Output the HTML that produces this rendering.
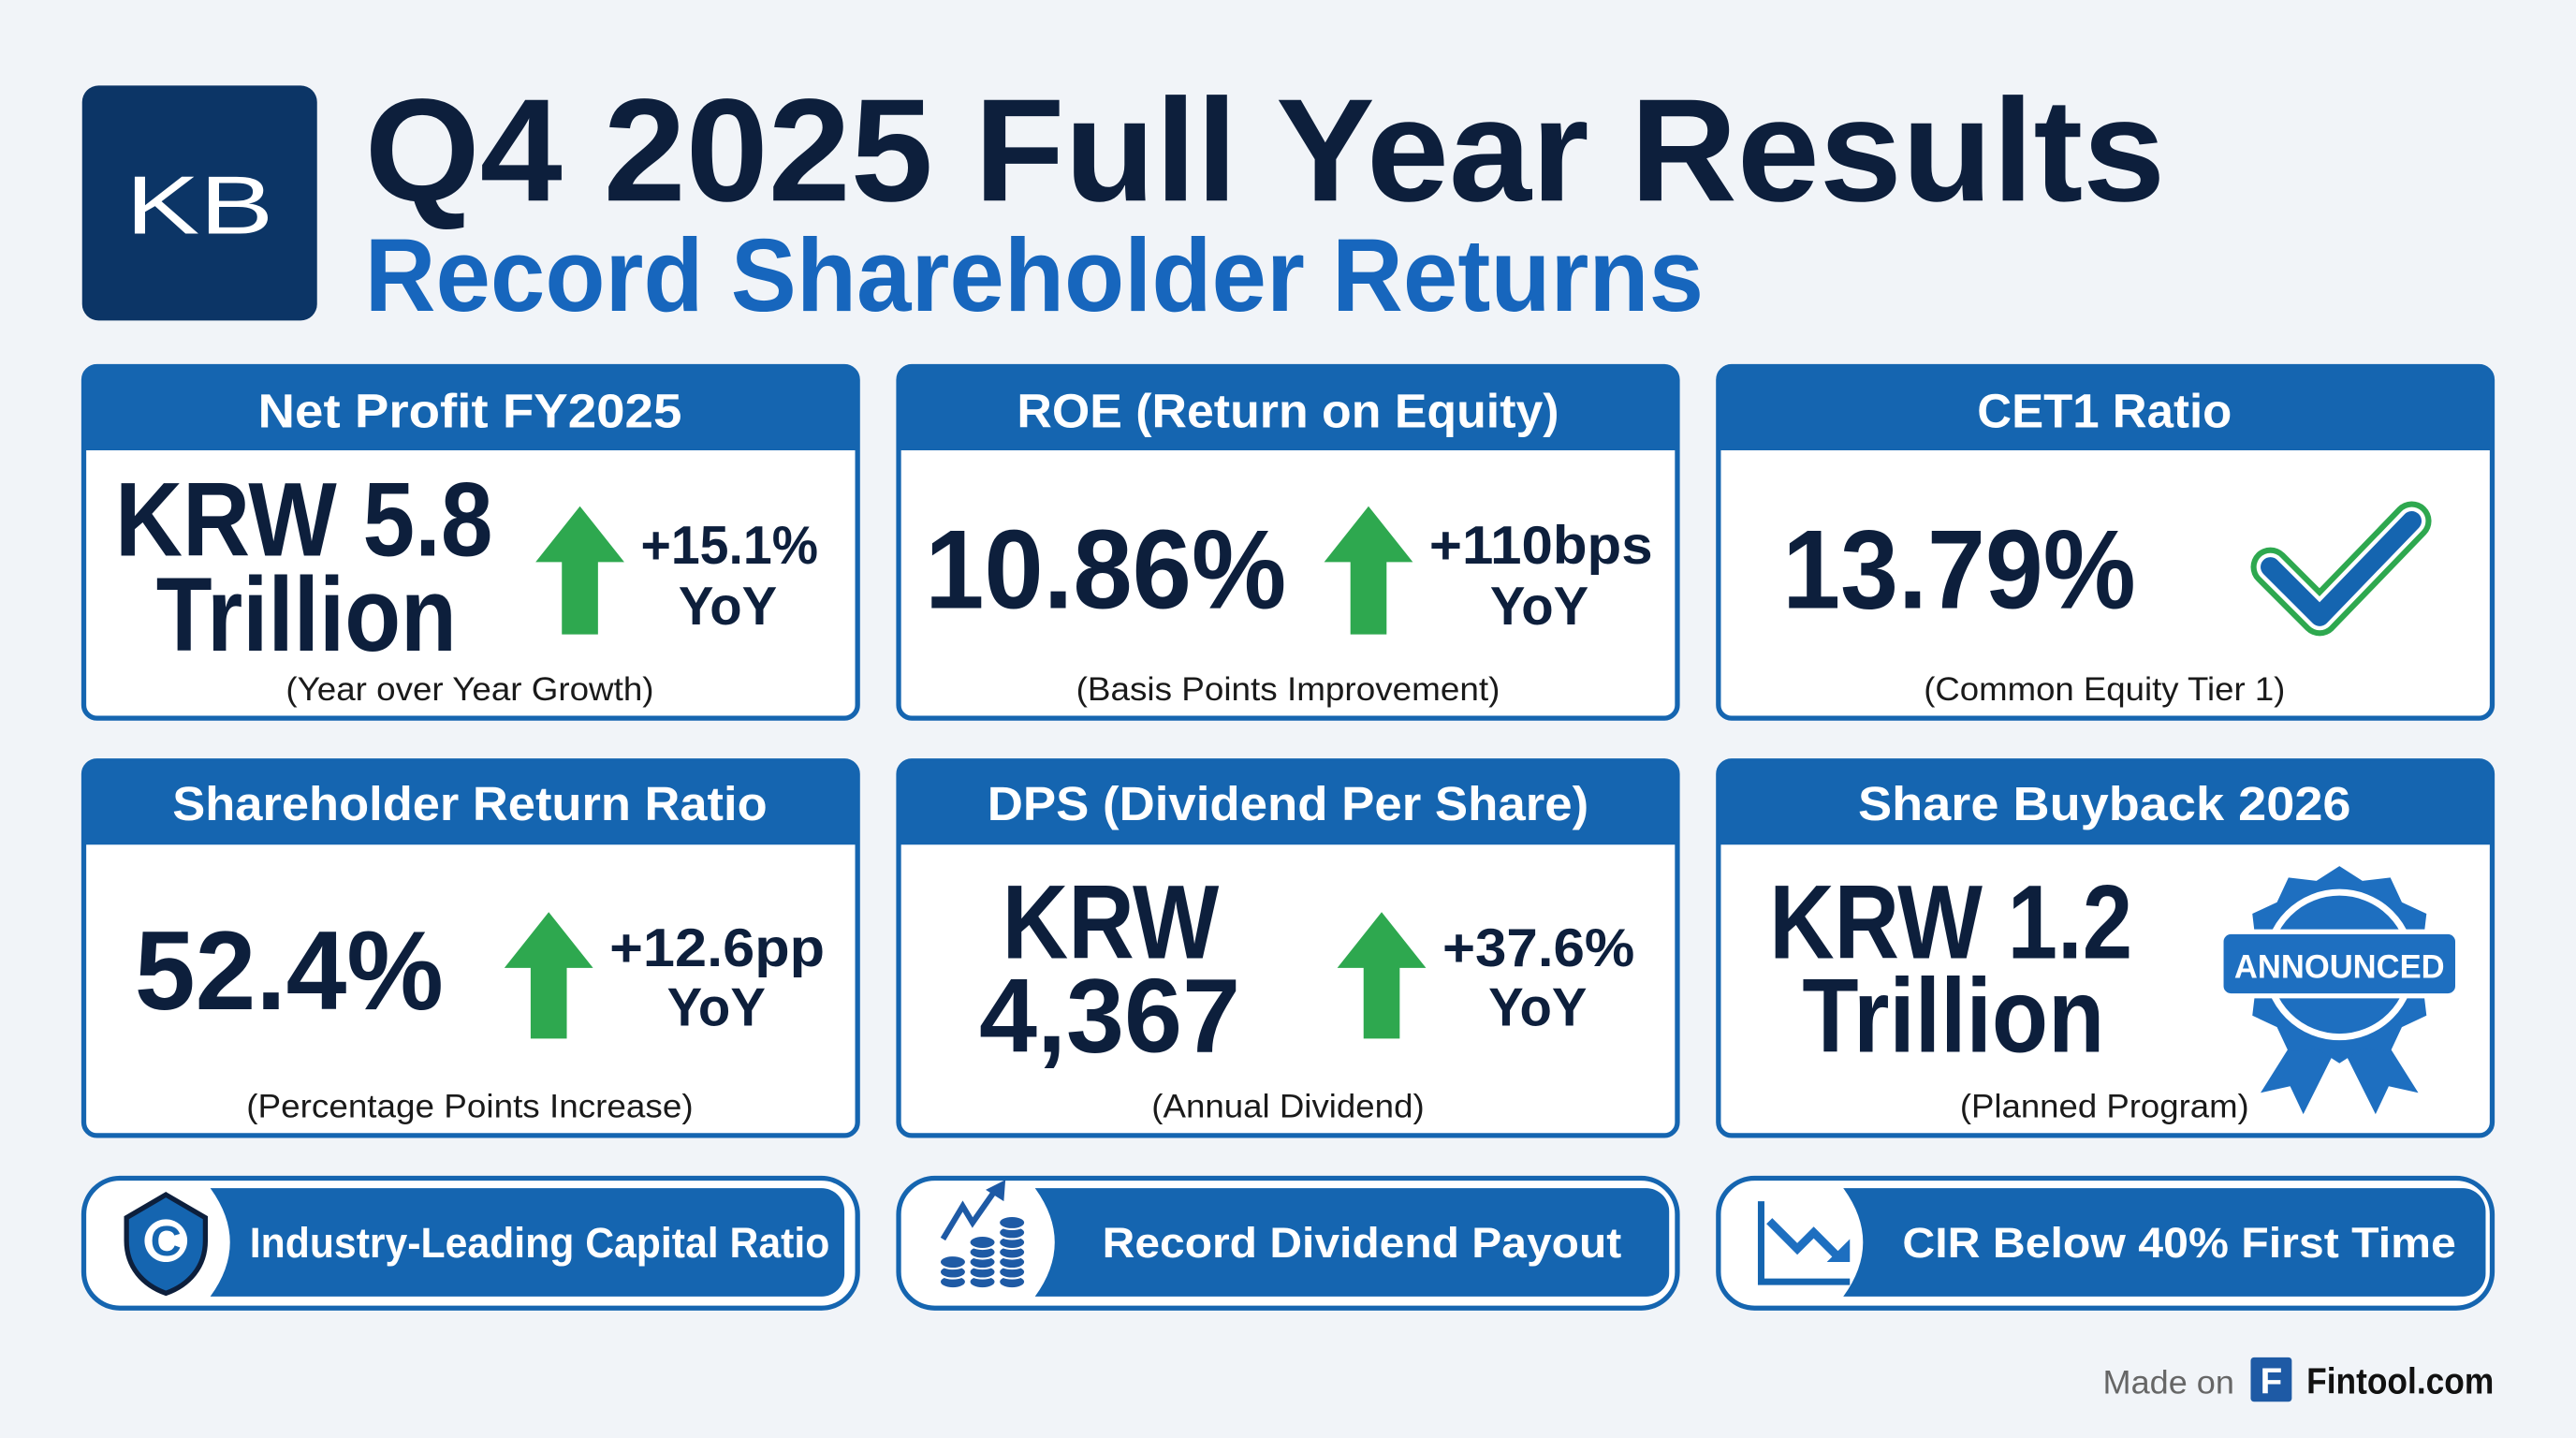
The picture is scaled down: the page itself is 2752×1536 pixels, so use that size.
<!DOCTYPE html>
<html><head><meta charset="utf-8"><style>
html,body{margin:0;padding:0;background:#f1f4f8;}
svg{display:block;}
text{font-family:"Liberation Sans",sans-serif;}
</style></head><body>
<svg width="2752" height="1536" viewBox="0 0 1568 875" xmlns="http://www.w3.org/2000/svg">
<rect width="1568" height="875" fill="#f1f4f8"/>
<!-- logo -->
<rect x="50" y="52" width="143" height="143" rx="10" fill="#0c3566"/>
<text x="121.5" y="142" font-size="50" fill="#fff" text-anchor="middle" textLength="90" lengthAdjust="spacingAndGlyphs">KB</text>
<text x="222" y="122" font-size="89" font-weight="bold" fill="#0d1f3c" textLength="1096" lengthAdjust="spacingAndGlyphs">Q4 2025 Full Year Results</text>
<text x="222" y="189" font-size="63" font-weight="bold" fill="#1766bd" textLength="815" lengthAdjust="spacingAndGlyphs">Record Shareholder Returns</text>

<g stroke="#1565b0" stroke-width="3">
<rect x="51" y="223" width="471" height="214" rx="8" fill="#fff"/>
<rect x="547" y="223" width="474" height="214" rx="8" fill="#fff"/>
<rect x="1046" y="223" width="471" height="214" rx="8" fill="#fff"/>
<rect x="51" y="463" width="471" height="228" rx="8" fill="#fff"/>
<rect x="547" y="463" width="474" height="228" rx="8" fill="#fff"/>
<rect x="1046" y="463" width="471" height="228" rx="8" fill="#fff"/>
</g>
<g fill="#1565b0">
<path d="M51 231a8 8 0 0 1 8-8h455a8 8 0 0 1 8 8v43H51z"/>
<path d="M547 231a8 8 0 0 1 8-8h458a8 8 0 0 1 8 8v43H547z"/>
<path d="M1046 231a8 8 0 0 1 8-8h455a8 8 0 0 1 8 8v43H1046z"/>
<path d="M51 471a8 8 0 0 1 8-8h455a8 8 0 0 1 8 8v43H51z"/>
<path d="M547 471a8 8 0 0 1 8-8h458a8 8 0 0 1 8 8v43H547z"/>
<path d="M1046 471a8 8 0 0 1 8-8h455a8 8 0 0 1 8 8v43H1046z"/>
</g>
<g font-size="29" font-weight="bold" fill="#fff" text-anchor="middle">
<text x="286" y="260" textLength="258" lengthAdjust="spacingAndGlyphs">Net Profit FY2025</text>
<text x="784" y="260" textLength="330" lengthAdjust="spacingAndGlyphs">ROE (Return on Equity)</text>
<text x="1281" y="260" textLength="155" lengthAdjust="spacingAndGlyphs">CET1 Ratio</text>
<text x="286" y="499" textLength="362" lengthAdjust="spacingAndGlyphs">Shareholder Return Ratio</text>
<text x="784" y="499" textLength="366" lengthAdjust="spacingAndGlyphs">DPS (Dividend Per Share)</text>
<text x="1281" y="499" textLength="300" lengthAdjust="spacingAndGlyphs">Share Buyback 2026</text>
</g>

<!-- arrows -->
<g fill="#2ea84f">
<path d="M353 308l27 34h-16v44h-22v-44h-16z"/>
<path d="M833 308l27 34h-16v44h-22v-44h-16z"/>
<path d="M334 555l27 34h-16v43h-22v-43h-16z"/>
<path d="M841 555l27 34h-16v43h-22v-43h-16z"/>
</g>

<g font-weight="bold" fill="#0d1f3c">
<text x="70" y="338" font-size="64" textLength="230" lengthAdjust="spacingAndGlyphs">KRW 5.8</text>
<text x="95" y="396" font-size="64" textLength="183" lengthAdjust="spacingAndGlyphs">Trillion</text>
<text x="390" y="343" font-size="33" textLength="108" lengthAdjust="spacingAndGlyphs">+15.1%</text>
<text x="443" y="380" font-size="33" text-anchor="middle" textLength="60" lengthAdjust="spacingAndGlyphs">YoY</text>

<text x="563" y="370" font-size="68" textLength="220" lengthAdjust="spacingAndGlyphs">10.86%</text>
<text x="870" y="343" font-size="33" textLength="136" lengthAdjust="spacingAndGlyphs">+110bps</text>
<text x="937" y="380" font-size="33" text-anchor="middle" textLength="60" lengthAdjust="spacingAndGlyphs">YoY</text>

<text x="1085" y="370" font-size="68" textLength="215" lengthAdjust="spacingAndGlyphs">13.79%</text>

<text x="82" y="614" font-size="68" textLength="188" lengthAdjust="spacingAndGlyphs">52.4%</text>
<text x="371" y="588" font-size="33" textLength="131" lengthAdjust="spacingAndGlyphs">+12.6pp</text>
<text x="436" y="624" font-size="33" text-anchor="middle" textLength="60" lengthAdjust="spacingAndGlyphs">YoY</text>

<text x="676" y="583" font-size="64" text-anchor="middle" textLength="132" lengthAdjust="spacingAndGlyphs">KRW</text>
<text x="596" y="640" font-size="64" textLength="159" lengthAdjust="spacingAndGlyphs">4,367</text>
<text x="878" y="588" font-size="33" textLength="117" lengthAdjust="spacingAndGlyphs">+37.6%</text>
<text x="936" y="624" font-size="33" text-anchor="middle" textLength="60" lengthAdjust="spacingAndGlyphs">YoY</text>

<text x="1077" y="583" font-size="64" textLength="221" lengthAdjust="spacingAndGlyphs">KRW 1.2</text>
<text x="1097" y="640" font-size="64" textLength="184" lengthAdjust="spacingAndGlyphs">Trillion</text>
</g>

<g font-size="20" fill="#1a1a1a" text-anchor="middle">
<text x="286" y="426" textLength="224" lengthAdjust="spacingAndGlyphs">(Year over Year Growth)</text>
<text x="784" y="426" textLength="258" lengthAdjust="spacingAndGlyphs">(Basis Points Improvement)</text>
<text x="1281" y="426" textLength="220" lengthAdjust="spacingAndGlyphs">(Common Equity Tier 1)</text>
<text x="286" y="680" textLength="272" lengthAdjust="spacingAndGlyphs">(Percentage Points Increase)</text>
<text x="784" y="680" textLength="166" lengthAdjust="spacingAndGlyphs">(Annual Dividend)</text>
<text x="1281" y="680" textLength="176" lengthAdjust="spacingAndGlyphs">(Planned Program)</text>
</g>

<!-- check mark -->
<path d="M1382 345l30 30 56-58" fill="none" stroke="#2ea84f" stroke-width="24" stroke-linecap="round" stroke-linejoin="round"/>
<path d="M1382 345l30 30 56-58" fill="none" stroke="#fff" stroke-width="17" stroke-linecap="round" stroke-linejoin="round"/>
<path d="M1382 345l30 30 56-58" fill="none" stroke="#1565b0" stroke-width="12" stroke-linecap="round" stroke-linejoin="round"/>

<!-- badge -->
<g fill="#1e6fc0">
<path d="M1398 630l-22 35 18-4 8 17 20-40z"/>
<path d="M1450 630l22 35-18-4-8 17-20-40z"/>
<polygon points="1424,527 1438,536 1455,534 1462,549 1477,556 1475,573 1484,587 1475,601 1477,618 1462,625 1455,640 1438,638 1424,647 1410,638 1393,640 1386,625 1371,618 1373,601 1364,587 1373,573 1371,556 1386,549 1393,534 1410,536"/>
</g>
<circle cx="1424" cy="587" r="44" fill="none" stroke="#fff" stroke-width="4"/>
<rect x="1352" y="567" width="144" height="39" rx="6" fill="#1e6fc0" stroke="#fff" stroke-width="3"/>
<text x="1424" y="595" font-size="20" font-weight="bold" fill="#fff" text-anchor="middle" textLength="128" lengthAdjust="spacingAndGlyphs">ANNOUNCED</text>

<!-- pills -->
<g fill="#fff" stroke="#1565b0" stroke-width="3">
<rect x="51" y="717" width="471" height="79" rx="22"/>
<rect x="547" y="717" width="474" height="79" rx="22"/>
<rect x="1046" y="717" width="471" height="79" rx="22"/>
</g>
<g fill="#1565b0">
<path d="M128 723h372a14 14 0 0 1 14 14v38a14 14 0 0 1-14 14h-372Q152 756 128 723z"/>
<path d="M630 723h372a14 14 0 0 1 14 14v38a14 14 0 0 1-14 14h-372Q654 756 630 723z"/>
<path d="M1122 723h377a14 14 0 0 1 14 14v38a14 14 0 0 1-14 14h-377Q1146 756 1122 723z"/>
</g>
<g font-size="26" font-weight="bold" fill="#fff">
<text x="152" y="765" textLength="353" lengthAdjust="spacingAndGlyphs">Industry-Leading Capital Ratio</text>
<text x="671" y="765" textLength="316" lengthAdjust="spacingAndGlyphs">Record Dividend Payout</text>
<text x="1158" y="765" textLength="337" lengthAdjust="spacingAndGlyphs">CIR Below 40% First Time</text>
</g>
<!-- shield -->
<path d="M101 727l24 14v14c0 16-10 27-24 32-14-5-24-16-24-32v-14z" fill="#1565b0" stroke="#0d1f3c" stroke-width="3"/>
<circle cx="101" cy="755" r="13" fill="#fff"/>
<text x="101" y="764" font-size="26" font-weight="bold" fill="#1565b0" text-anchor="middle">C</text>
<!-- coins -->
<g fill="#1e5aa5" stroke="#fff" stroke-width="1.2">
<ellipse cx="580" cy="780" rx="8" ry="4"/><ellipse cx="580" cy="774" rx="8" ry="4"/><ellipse cx="580" cy="768" rx="8" ry="4"/>
<ellipse cx="598" cy="780" rx="8" ry="4"/><ellipse cx="598" cy="774" rx="8" ry="4"/><ellipse cx="598" cy="768" rx="8" ry="4"/><ellipse cx="598" cy="762" rx="8" ry="4"/><ellipse cx="598" cy="756" rx="8" ry="4"/>
<ellipse cx="616" cy="780" rx="8" ry="4"/><ellipse cx="616" cy="774" rx="8" ry="4"/><ellipse cx="616" cy="768" rx="8" ry="4"/><ellipse cx="616" cy="762" rx="8" ry="4"/><ellipse cx="616" cy="756" rx="8" ry="4"/><ellipse cx="616" cy="750" rx="8" ry="4"/><ellipse cx="616" cy="744" rx="8" ry="4"/>
</g>
<path d="M574 754l12-20 6 10 14-20" fill="none" stroke="#1e5aa5" stroke-width="3.5"/>
<path d="M600 724l12-6-1 13z" fill="#1e5aa5"/>
<!-- down chart -->
<path d="M1072 731v49h54" fill="none" stroke="#1565b0" stroke-width="4"/>
<path d="M1077 743l17 17 10-10 16 16" fill="none" stroke="#1e6fc0" stroke-width="5"/>
<path d="M1112 768l14 0 0-14z" fill="#1e6fc0"/>

<!-- footer -->
<text x="1280" y="848" font-size="20" fill="#666" textLength="80" lengthAdjust="spacingAndGlyphs">Made on</text>
<rect x="1370" y="826" width="25" height="27" rx="2" fill="#1e5aa5"/>
<text x="1382.5" y="848" font-size="22" font-weight="bold" fill="#fff" text-anchor="middle" font-family="Liberation Serif">F</text>
<text x="1404" y="848" font-size="22" font-weight="bold" fill="#111" textLength="114" lengthAdjust="spacingAndGlyphs">Fintool.com</text>
</svg>
</body></html>
